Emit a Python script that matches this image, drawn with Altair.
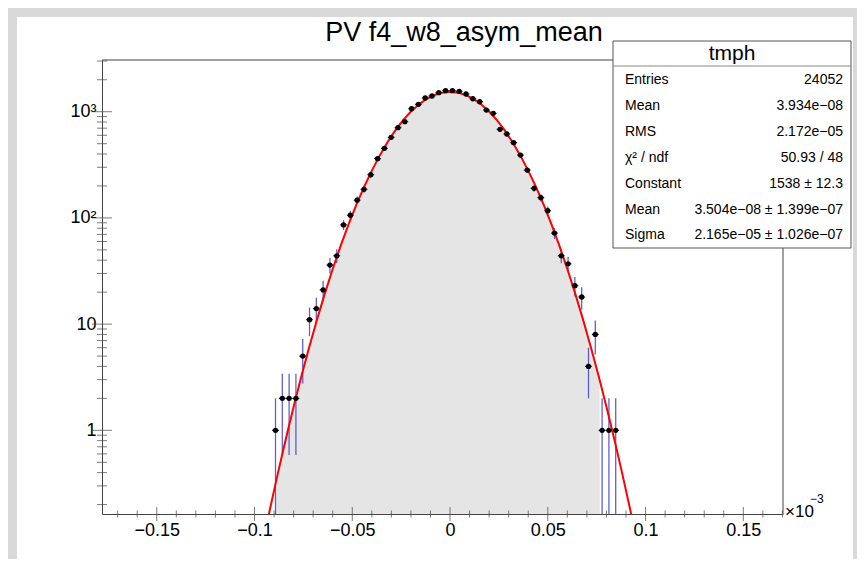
import altair as alt
import pandas as pd
import numpy as np

FONT = "Liberation Sans"

# ---- axis ranges ----
x_min, x_max = -0.178, 0.1703
y_min, y_max = 0.163, 3069

# ---- histogram: 51 filled bins ----
first_center = -0.08926
bin_width = 0.00348
counts = [1, 2, 2, 2, 5, 11, 14, 21, 36, 44, 86, 106, 147, 186, 255, 361, 452, 574, 707,
          805, 1067, 1175, 1346, 1406, 1511, 1577, 1577, 1556, 1469, 1325, 1241, 1037, 966, 683, 617, 511,
          391, 282, 190, 155, 117, 72, 44, 37, 23, 18, 4, 8, 1, 1, 1]

# ---- gaussian fit curve (red) ----
fit_x = [-0.096, -0.092, -0.088, -0.084, -0.080, -0.076, -0.072, -0.068, -0.064, -0.060,
         -0.056, -0.052, -0.048, -0.044, -0.040, -0.036, -0.032, -0.028, -0.024, -0.020,
         -0.016, -0.012, -0.008, -0.004, 0.0, 0.004, 0.008, 0.012, 0.016, 0.020,
         0.024, 0.028, 0.032, 0.036, 0.040, 0.044, 0.048, 0.052, 0.056, 0.060,
         0.064, 0.068, 0.072, 0.076, 0.080, 0.084, 0.088, 0.092, 0.094]
fit_y = [0.0827, 0.1845, 0.3976, 0.8282, 1.668, 3.244, 6.100, 11.087, 19.47, 33.05,
         54.23, 85.97, 131.7, 195.0, 279.1, 386.0, 515.9, 666.4, 832.0, 1003.8,
         1170.5, 1319.0, 1436.5, 1512.0, 1538.0, 1512.0, 1436.5, 1319.0, 1170.5, 1003.8,
         832.0, 666.4, 515.9, 386.0, 279.1, 195.0, 131.7, 85.97, 54.23, 33.05,
         19.47, 11.087, 6.100, 3.244, 1.668, 0.8282, 0.3976, 0.1845, 0.124]

# ---- grey filled shape under the points ----
fill_x = [-0.0895, -0.088, -0.084, -0.080, -0.076, -0.072, -0.068, -0.064, -0.060,
          -0.056, -0.052, -0.048, -0.044, -0.040, -0.036, -0.032, -0.028, -0.024, -0.020,
          -0.016, -0.012, -0.008, -0.004, 0.0, 0.004, 0.008, 0.012, 0.016, 0.020,
          0.024, 0.028, 0.032, 0.036, 0.040, 0.044, 0.048, 0.052, 0.056, 0.060,
          0.064, 0.068, 0.072, 0.0765, 0.0766]
fill_y = [0.163, 0.3976, 0.8282, 1.668, 3.244, 6.100, 11.087, 19.47, 33.05,
          54.23, 85.97, 131.7, 195.0, 279.1, 386.0, 515.9, 666.4, 832.0, 1003.8,
          1170.5, 1319.0, 1436.5, 1512.0, 1538.0, 1512.0, 1436.5, 1319.0, 1170.5, 1003.8,
          832.0, 666.4, 515.9, 386.0, 279.1, 195.0, 131.7, 85.97, 54.23, 33.05,
          19.47, 11.087, 6.100, 3.1, 0.163]

# ---- axis ticks ----
x_major = [-0.15, -0.1, -0.05, 0.0, 0.05, 0.1, 0.15]
x_minor = [-0.17, -0.16, -0.14, -0.13, -0.12, -0.11, -0.09, -0.08, -0.07, -0.06,
           -0.04, -0.03, -0.02, -0.01, 0.01, 0.02, 0.03, 0.04, 0.06, 0.07, 0.08, 0.09,
           0.11, 0.12, 0.13, 0.14, 0.16, 0.17]
y_major = [1, 10, 100, 1000]
y_minor = [0.2, 0.3, 0.4, 0.5, 0.6, 0.7, 0.8, 0.9, 2, 3, 4, 5, 6, 7, 8, 9,
           20, 30, 40, 50, 60, 70, 80, 90, 200, 300, 400, 500, 600, 700, 800, 900, 2000, 3000]

# ---- stats box ----
stat_labels = ["Entries", "Mean", "RMS", "χ² / ndf", "Constant", "Mean", "Sigma"]
stat_values = ["24052", "3.934e−08", "2.172e−05", "50.93 / 48", "1538 ± 12.3",
               "3.504e−08 ± 1.399e−07", "2.165e−05 ± 1.026e−07"]

W, H = 681, 454
BORDER = "#d9d9d9"
AXC = "#444444"

centers = first_center + bin_width * np.arange(len(counts))
cnt = np.array(counts, dtype=float)
hist = pd.DataFrame({
    "x": centers,
    "xlo": centers - bin_width / 2,
    "xhi": centers + bin_width / 2,
    "n": cnt,
    "elo": np.maximum(cnt - np.sqrt(cnt), y_min),
    "ehi": cnt + np.sqrt(cnt),
})
fit = pd.DataFrame({"x": fit_x, "y": fit_y})
fill = pd.DataFrame({"x": fill_x, "y": fill_y, "base": [y_min] * len(fill_x)})
xt = pd.DataFrame({"tx": x_major + x_minor,
                   "len": [14] * len(x_major) + [7] * len(x_minor)})
yt = pd.DataFrame({"ty": y_major + y_minor,
                   "len": [20] * len(y_major) + [10] * len(y_minor)})

xs = alt.Scale(domain=[x_min, x_max], nice=False, zero=False)
ys = alt.Scale(type="log", domain=[y_min, y_max], nice=False)
x_axis = alt.Axis(values=x_major, format=".2~f", ticks=False, grid=False, title=None,
                  domainColor=AXC, labelFont=FONT, labelFontSize=18, labelColor="#000",
                  labelPadding=7, labelFlush=False)
y_axis = alt.Axis(values=y_major, ticks=False, grid=False, title=None, domainColor=AXC,
                  labelFont=FONT, labelFontSize=18, labelColor="#000", labelPadding=6,
                  labelExpr="datum.value == 1000 ? '10³' : datum.value == 100 ? '10²' : datum.value == 10 ? '10' : '1'")


def X(f):
    return alt.X(f, type="quantitative", scale=xs, axis=x_axis)


def Y(f):
    return alt.Y(f, type="quantitative", scale=ys, axis=y_axis)


one = pd.DataFrame({"a": [0]})


def strip(x0, x1, y0, y1):
    return alt.Chart(one).mark_rect(color=BORDER, clip=False).encode(
        x=alt.value(x0), x2=alt.value(x1), y=alt.value(y0), y2=alt.value(y1))


strips = [strip(-100, -85, -60, 520), strip(-100, 760, -60, -43), strip(751, 760, -60, 520)]

area = alt.Chart(fill).mark_area(color="#e5e5e5", clip=True, opacity=1).encode(
    x=X("x"), y=Y("y"), y2=alt.Y2("base"))

frame = alt.Chart(one).mark_rule(color=AXC, strokeWidth=1).encode(
    x=alt.value(0), x2=alt.value(W), y=alt.value(0))
frame_r = alt.Chart(one).mark_rule(color=AXC, strokeWidth=1).encode(
    x=alt.value(W), y=alt.value(0), y2=alt.value(H))

ebar = alt.Chart(hist).mark_rule(color="#4444cc", strokeWidth=1.3, opacity=0.85).encode(
    x=X("x"), y=Y("elo"), y2=alt.Y2("ehi"))

hbar = alt.Chart(hist).mark_rule(color="#000", strokeWidth=1).encode(
    x=X("xlo"), x2=alt.X2("xhi"), y=Y("n"))

fitline = alt.Chart(fit).mark_line(color="#ff0000", strokeWidth=2, clip=True).encode(
    x=X("x"), y=Y("y"))

pts = alt.Chart(hist).mark_circle(color="#000", size=28, opacity=1).encode(
    x=X("x"), y=Y("n"))

xticks = alt.Chart(xt).mark_tick(color=AXC, thickness=1, orient="vertical").encode(
    x=X("tx"), y=alt.value(H), size=alt.Size("len:Q", scale=None, legend=None))
yticks = alt.Chart(yt).mark_tick(color=AXC, thickness=1, orient="horizontal").encode(
    y=Y("ty"), x=alt.value(0), size=alt.Size("len:Q", scale=None, legend=None))

title = alt.Chart(one).mark_text(text="PV f4_w8_asym_mean", font=FONT, fontSize=27,
                                 align="center", baseline="middle", color="#000").encode(
    x=alt.value(362), y=alt.value(-27))

exp1 = alt.Chart(one).mark_text(text="×10", font=FONT, fontSize=17, align="left",
                                baseline="middle", color="#000").encode(
    x=alt.value(683), y=alt.value(452))
exp2 = alt.Chart(one).mark_text(text="−3", font=FONT, fontSize=12, align="left",
                                baseline="middle", color="#000").encode(
    x=alt.value(708), y=alt.value(439))

# stats box
bx0, bx1, by0, by1 = 511, 749, -19, 188
box = alt.Chart(one).mark_rect(fill="white", stroke="#555", strokeWidth=1, clip=False).encode(
    x=alt.value(bx0), x2=alt.value(bx1), y=alt.value(by0), y2=alt.value(by1))
sep = alt.Chart(one).mark_rule(color="#888", strokeWidth=1).encode(
    x=alt.value(bx0), x2=alt.value(bx1), y=alt.value(6))
boxtitle = alt.Chart(one).mark_text(text="tmph", font=FONT, fontSize=21, align="center",
                                    baseline="middle", color="#000").encode(
    x=alt.value((bx0 + bx1) / 2), y=alt.value(-6))
stat_layers = []
for i, (lab, val) in enumerate(zip(stat_labels, stat_values)):
    yy = 20 + i * 25.9
    stat_layers.append(alt.Chart(one).mark_text(text=lab, font=FONT, fontSize=14, align="left",
                                                baseline="middle", color="#000").encode(
        x=alt.value(523), y=alt.value(yy)))
    stat_layers.append(alt.Chart(one).mark_text(text=val, font=FONT, fontSize=14, align="right",
                                                baseline="middle", color="#000").encode(
        x=alt.value(741), y=alt.value(yy)))

chart = alt.layer(
    *strips, area, frame, frame_r, ebar, hbar, fitline, pts,
    title, exp1, exp2, box, sep, boxtitle, *stat_layers, xticks, yticks
).properties(
    width=W, height=H,
    padding={"left": 94, "top": 52, "right": 74, "bottom": 45},
    autosize=alt.AutoSizeParams(type="none"),
    background="white",
).configure_view(stroke=None)

chart.save("out.html", embed_options={"renderer": "svg", "actions": False})
